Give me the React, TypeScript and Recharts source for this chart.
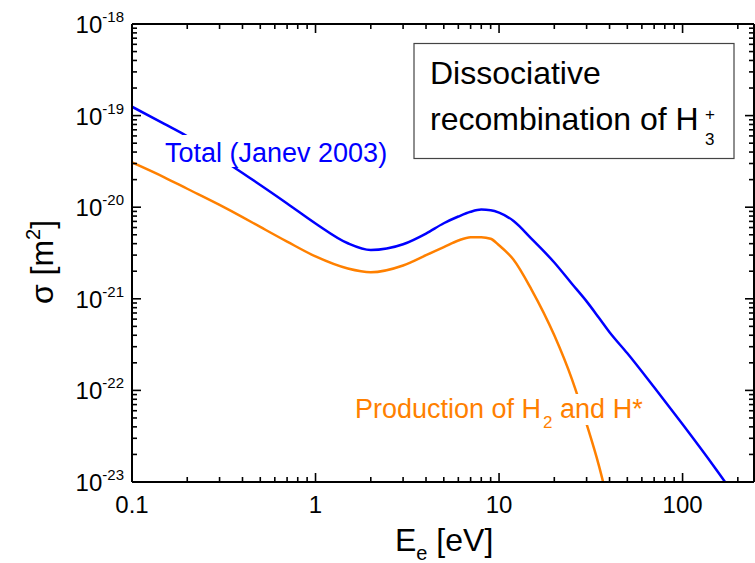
import React from "react";
import { LineChart, Line, XAxis, YAxis } from "recharts";

// electron energy [eV]
const energies = [0.1, 0.15, 0.2, 0.3, 0.4, 0.5, 0.7, 1, 1.5, 2, 3, 4, 5, 6, 7, 8, 9, 10, 12, 15, 20, 25, 30, 35, 40, 50, 70, 100, 150, 200];

// Total (Janev 2003), sigma [m^2]
const totalSigma = [
  1.25e-19, 8.11e-20, 5.94e-20, 3.47e-20, 2.36e-20, 1.75e-20, 1.1e-20, 6.65e-21, 4.04e-21, 3.41e-21,
  3.94e-21, 5.16e-21, 6.68e-21, 7.91e-21, 8.91e-21, 9.41e-21, 9.27e-21, 8.73e-21, 7.07e-21, 4.54e-21,
  2.49e-21, 1.45e-21, 9.37e-22, 6.2e-22, 4.31e-22, 2.54e-22, 1.08e-22, 4.26e-23, 1.43e-23, 6.36e-24,
];

// Production of H2 and H*
const productionSigma = [
  3.08e-20, 2.12e-20, 1.59e-20, 1.06e-20, 7.8e-21, 6.09e-21, 4.21e-21, 2.9e-21, 2.14e-21, 1.95e-21,
  2.31e-21, 2.99e-21, 3.67e-21, 4.33e-21, 4.7e-21, 4.71e-21, 4.52e-21, 3.84e-21, 2.67e-21, 1.27e-21,
  3.99e-22, 1.31e-22, 4.28e-23, 1.51e-23, 5.13e-24, null, null, null, null, null,
];

// axis ticks
const xMajor = [0.1, 1, 10, 100];
const xDecades = [0.1, 1, 10, 100];
const yDecades = [1e-23, 1e-22, 1e-21, 1e-20, 1e-19, 1e-18];
const mantissas = [1, 2, 3, 4, 5, 6, 7, 8, 9];

const X_DOMAIN: [number, number] = [0.1, 245];
const Y_DOMAIN: [number, number] = [1e-23, 1e-18];

const xTicks = xDecades.flatMap((d) => mantissas.map((m) => m * d)).filter((v) => v <= X_DOMAIN[1]);
const yTicks = yDecades.flatMap((d) => mantissas.map((m) => m * d)).filter((v) => v <= Y_DOMAIN[1] * 1.0001);

const data = energies.map((e, i) => ({
  e,
  total: totalSigma[i],
  prod: productionSigma[i],
}));

const isMajor = (v: number) => Math.abs(Math.log10(v) - Math.round(Math.log10(v))) < 1e-6;

const FONT = "'Liberation Sans', Arial, Helvetica, sans-serif";
const TICK_COLOR = "#000";

// ticks point inward, majors longer than minors
const BottomTick = (props: any) => {
  const { x, y, payload } = props;
  const major = isMajor(payload.value);
  return (
    <g>
      <line x1={x} y1={y} x2={x} y2={y - (major ? 9 : 5)} stroke={TICK_COLOR} strokeWidth={1.6} />
      {major && xMajor.includes(payload.value) && (
        <text x={x} y={y + 31} textAnchor="middle" fontSize={24} fill="#000" fontFamily={FONT}>
          {payload.value}
        </text>
      )}
    </g>
  );
};

const TopTick = (props: any) => {
  const { x, y, payload } = props;
  const major = isMajor(payload.value);
  return (
    <g>
      <line x1={x} y1={y} x2={x} y2={y + (major ? 9 : 5)} stroke={TICK_COLOR} strokeWidth={1.6} />
    </g>
  );
};

const LeftTick = (props: any) => {
  const { x, y, payload } = props;
  const major = isMajor(payload.value);
  const exp = Math.round(Math.log10(payload.value));
  return (
    <g>
      <line x1={x} y1={y} x2={x + (major ? 9 : 5)} y2={y} stroke={TICK_COLOR} strokeWidth={1.6} />
      {major && (
        <text x={x - 8} y={y + 9} textAnchor="end" fontSize={24} fill="#000" fontFamily={FONT}>
          10
          <tspan dy={-11} fontSize={15}>
            {exp}
          </tspan>
        </text>
      )}
    </g>
  );
};

const RightTick = (props: any) => {
  const { x, y, payload } = props;
  const major = isMajor(payload.value);
  return (
    <g>
      <line x1={x} y1={y} x2={x - (major ? 9 : 5)} y2={y} stroke={TICK_COLOR} strokeWidth={1.6} />
    </g>
  );
};

const frame = { stroke: "#000", strokeWidth: 2 };

export default function App() {
  return (
    <div style={{ position: "absolute", left: 0, top: 0, width: 755, height: 563, fontFamily: FONT }}>
      <LineChart width={755} height={563} data={data} margin={{ top: 23, right: 0, bottom: 0, left: 0 }}>
        <XAxis dataKey="e" type="number" scale="log" domain={X_DOMAIN} allowDataOverflow ticks={xTicks} interval={0}
          height={81} tickSize={0} tickMargin={0} tick={BottomTick} tickLine={false} axisLine={frame} />
        <XAxis xAxisId="top" orientation="top" dataKey="e" type="number" scale="log" domain={X_DOMAIN} allowDataOverflow
          ticks={xTicks} interval={0} height={1} tickSize={0} tickMargin={0} tick={TopTick} tickLine={false} axisLine={frame} />
        <YAxis type="number" scale="log" domain={Y_DOMAIN} allowDataOverflow ticks={yTicks} interval={0} width={132}
          tickSize={0} tickMargin={0} tick={LeftTick} tickLine={false} axisLine={frame} />
        <YAxis yAxisId="right" orientation="right" type="number" scale="log" domain={Y_DOMAIN} allowDataOverflow
          ticks={yTicks} interval={0} width={1} tickSize={0} tickMargin={0} tick={RightTick} tickLine={false} axisLine={frame} />
        <Line dataKey="prod" type="monotone" stroke="#ff8000" strokeWidth={2.5} dot={false} isAnimationActive={false} />
        <Line dataKey="total" type="monotone" stroke="#0000ff" strokeWidth={2.5} dot={false} isAnimationActive={false} />
      </LineChart>

      {/* labels and annotations */}
      <svg width={755} height={563} style={{ position: "absolute", left: 0, top: 0, pointerEvents: "none" }} fontFamily={FONT}>
        <rect x={160} y={135} width={232} height={32} fill="#fff" />
        <text x={165} y={162} fontSize={27} fill="#0000ff">
          Total (Janev 2003)
        </text>

        <rect x={350} y={394} width={292} height={31} fill="#fff" />
        <text x={355} y={418} fontSize={27} fill="#ff8000">
          Production of H
          <tspan dx={2} dy={10} fontSize={17}>
            2
          </tspan>
          <tspan dy={-10} fontSize={27}>
            {" and H*"}
          </tspan>
        </text>

        <rect x={414} y={43.5} width={320} height={115} fill="#fff" stroke="#444" strokeWidth={1.2} />
        <text x={430} y={84} fontSize={32} fill="#000">
          Dissociative
        </text>
        <text x={430} y={130} fontSize={32} fill="#000">
          recombination of H
        </text>
        <text x={705} y={120} fontSize={17} fill="#000">
          +
        </text>
        <text x={705} y={145} fontSize={17} fill="#000">
          3
        </text>

        <text x={395} y={551} fontSize={32} fill="#000">
          E
          <tspan dy={9} fontSize={20}>
            e
          </tspan>
          <tspan dy={-9} fontSize={32}>
            {" [eV]"}
          </tspan>
        </text>

        <text transform="translate(53, 262) rotate(-90)" textAnchor="middle" fontSize={32} fill="#000">
          σ [m
          <tspan dy={-13} fontSize={20}>
            2
          </tspan>
          <tspan dy={13} fontSize={32}>
            ]
          </tspan>
        </text>
      </svg>
    </div>
  );
}
